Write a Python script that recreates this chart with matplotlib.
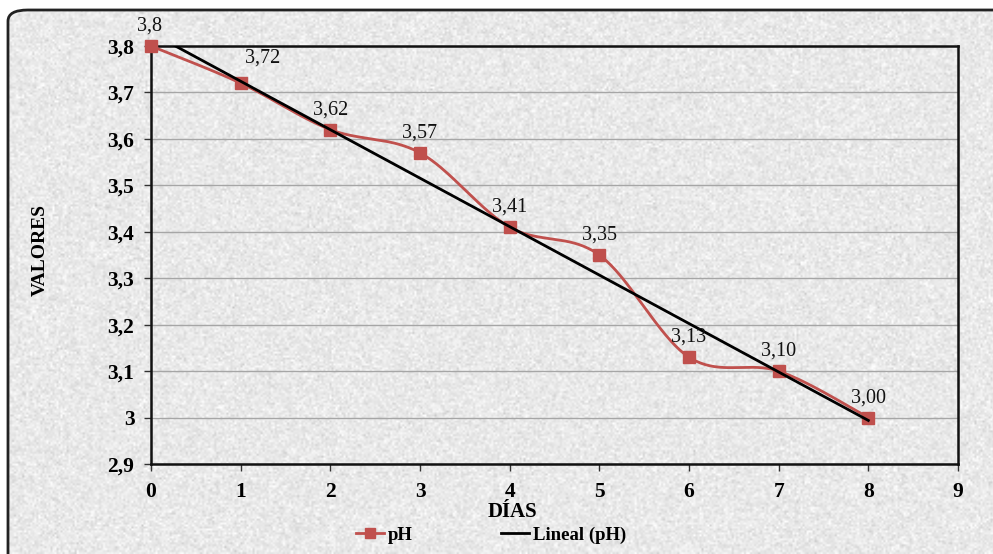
import numpy as np
import matplotlib
matplotlib.use("Agg")
import matplotlib.pyplot as plt
from matplotlib.patches import FancyBboxPatch
from matplotlib.lines import Line2D

# pH readings per day
dias = [0, 1, 2, 3, 4, 5, 6, 7, 8]
ph = [3.80, 3.72, 3.62, 3.57, 3.41, 3.35, 3.13, 3.10, 3.00]
etiquetas = ["3,8", "3,72", "3,62", "3,57", "3,41", "3,35", "3,13", "3,10", "3,00"]
y_ticks = [2.9, 3.0, 3.1, 3.2, 3.3, 3.4, 3.5, 3.6, 3.7, 3.8]
y_ticklabels = ["2,9", "3", "3,1", "3,2", "3,3", "3,4", "3,5", "3,6", "3,7", "3,8"]
x_ticks = [0, 1, 2, 3, 4, 5, 6, 7, 8, 9]

RED = "#c0504d"
SERIF = "Liberation Serif"

fig = plt.figure(figsize=(9.93, 5.54), dpi=100)
fig.patch.set_facecolor("white")

# textured grey panel with rounded border
rng = np.random.default_rng(3)
tex = 0.915 + 0.035 * rng.standard_normal((277, 497))
tex = np.clip(tex, 0.78, 1.0)
bg = fig.add_axes([0, 0, 1, 1], zorder=-2)
bg.imshow(np.dstack([tex] * 3), extent=[8 / 993, 1.02, 0.0, 1 - 10 / 554],
          aspect="auto", interpolation="bilinear")
bg.set_xlim(0, 1)
bg.set_ylim(0, 1)
bg.axis("off")
box = FancyBboxPatch((8 / 993, -0.05), 1.2, 1 - 10 / 554 + 0.05,
                     boxstyle="round,pad=0,rounding_size=0.02",
                     transform=bg.transAxes, facecolor="none",
                     edgecolor="#222222", linewidth=2.0)
bg.add_patch(box)
clip = FancyBboxPatch((8 / 993, -0.05), 1.2, 1 - 10 / 554 + 0.05,
                      boxstyle="round,pad=0,rounding_size=0.02",
                      transform=bg.transAxes, facecolor="none", edgecolor="none")
bg.add_patch(clip)
bg.images[0].set_clip_path(clip)

ax = fig.add_axes([151 / 993, 90 / 554, 807 / 993, 418 / 554])
ax.set_facecolor("none")
ax.set_xlim(0, 9)
ax.set_ylim(2.9, 3.8)

# smooth curve through the points (Catmull-Rom in screen-proportional space)
sx, sy = 807 / 9, 418 / 0.9
P = np.column_stack([np.array(dias, float) * sx, (np.array(ph) - 2.9) * sy])
Pext = np.vstack([P[0], P, P[-1]])
curve = []
t = np.linspace(0, 1, 40)[:, None]
for i in range(len(P) - 1):
    p0, p1, p2, p3 = Pext[i], Pext[i + 1], Pext[i + 2], Pext[i + 3]
    c1 = p1 + (p2 - p0) / 6
    c2 = p2 - (p3 - p1) / 6
    seg = ((1 - t) ** 3) * p1 + 3 * ((1 - t) ** 2) * t * c1 + 3 * (1 - t) * t ** 2 * c2 + t ** 3 * p2
    curve.append(seg)
curve = np.vstack(curve)
ax.plot(curve[:, 0] / sx, curve[:, 1] / sy + 2.9, color=RED, lw=2.0, zorder=3)
ax.plot(dias, ph, linestyle="none", marker="s", markersize=8, color=RED, zorder=4,
        clip_on=False)

# linear trend
m, b = np.polyfit(dias, ph, 1)
xt = np.array([0, 8])
ax.plot(xt, m * xt + b, color="black", lw=2.0, zorder=5)

# value labels
offsets = {0: (-2, 20), 1: (22, 25)}
for x, y, s in zip(dias, ph, etiquetas):
    dx, dy = offsets.get(x, (0, 20))
    ax.annotate(s, (x, y), xytext=(dx * 0.72, dy * 0.72), textcoords="offset points",
                ha="center", va="center", fontsize=14.5, family=SERIF,
                color="#111111", annotation_clip=False, zorder=6)

ax.set_yticks(y_ticks)
ax.set_yticklabels(y_ticklabels)
ax.set_xticks(x_ticks)
ax.grid(axis="y", color="#a6a6a6", lw=1.0)
ax.set_axisbelow(True)
for side in ["left", "bottom", "right", "top"]:
    ax.spines[side].set_linewidth(1.8)
    ax.spines[side].set_color("#111111")
ax.tick_params(axis="both", direction="out", length=5, width=1, color="#333333",
               labelsize=15.5)
ax.tick_params(axis="y", pad=7)
ax.tick_params(axis="x", pad=8)
for lab in ax.get_xticklabels() + ax.get_yticklabels():
    lab.set_fontfamily(SERIF)
    lab.set_fontweight("bold")

fig.text(40 / 993, 1 - 250 / 554, "VALORES", rotation=90, ha="center", va="center",
         fontsize=14, fontweight="bold", family=SERIF)
fig.text(512 / 993, 1 - 512 / 554, "DÍAS", ha="center", va="center",
         fontsize=15, fontweight="bold", family=SERIF)

handles = [
    Line2D([], [], color=RED, lw=2, marker="s", markersize=7),
    Line2D([], [], color="black", lw=2),
]
leg = fig.legend(handles, ["pH", "Lineal (pH)"], loc="center", ncol=2,
                 bbox_to_anchor=(491 / 993, 19 / 554), frameon=False,
                 handlelength=1.5, handletextpad=0.2, columnspacing=4.7,
                 prop={"family": SERIF, "weight": "bold", "size": 13.5})

fig.savefig("out.png", dpi=100)
